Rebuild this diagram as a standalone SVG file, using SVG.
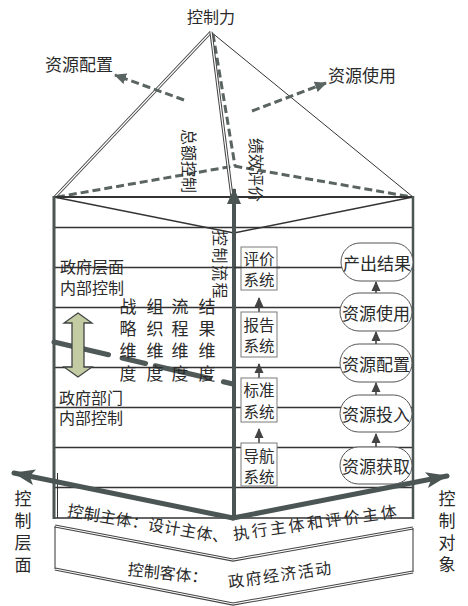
<svg xmlns="http://www.w3.org/2000/svg" width="468" height="606" viewBox="0 0 468 606">
<defs>
<style>
text{font-family:"Noto Sans CJK SC","Liberation Serif",serif;fill:#2a2a2a;}
.t17{font-size:17px;}
.t16{font-size:16px;}
.t15{font-size:15.5px;}
.c{text-anchor:middle;dominant-baseline:central;}
.ln{stroke:#333;stroke-width:1.5;fill:none;}
.thin{stroke:#333;stroke-width:1;fill:none;}
.dbl{stroke:#444;stroke-width:3.2;fill:none;}
.dblw{stroke:#fff;stroke-width:1.2;fill:none;}
.dash{stroke:#5a6462;stroke-width:3;fill:none;stroke-dasharray:8 4;}
.wall{stroke:#4b5553;stroke-width:3;fill:none;}
.big{stroke:#4b5553;stroke-width:5;fill:none;stroke-linecap:round;}
.box{fill:#fff;stroke:#7a7a7a;stroke-width:1;}
.oval{fill:#fff;stroke:#555;stroke-width:1;}
.sm{stroke:#444;stroke-width:1.6;fill:none;}
</style>
<marker id="ahS" markerUnits="userSpaceOnUse" markerWidth="10" markerHeight="10" viewBox="0 0 10 10" refX="9" refY="5" orient="auto"><path d="M0,0.5 L10,5 L0,9.5 Z" fill="#444"/></marker>
<marker id="ahD" markerUnits="userSpaceOnUse" markerWidth="12" markerHeight="12" viewBox="0 0 12 12" refX="11" refY="6" orient="auto"><path d="M0,0.5 L12,6 L0,11.5 Z" fill="#5a6462"/></marker>
<marker id="ahB" markerUnits="userSpaceOnUse" markerWidth="22" markerHeight="16" viewBox="0 0 22 16" refX="21" refY="8" orient="auto"><path d="M0,0 L22,8 L0,16 L5,8 Z" fill="#4b5553"/></marker>
<marker id="ahC" markerUnits="userSpaceOnUse" markerWidth="16" markerHeight="16" viewBox="0 0 16 16" refX="15" refY="8" orient="auto"><path d="M0,1 L16,8 L0,15 Z" fill="#4b5553"/></marker>
</defs>

<!-- pyramid -->
<g id="pyramid">
<line class="dbl" x1="55" y1="197" x2="211" y2="32"/>
<line class="dblw" x1="55" y1="197" x2="211" y2="32"/>
<line class="thin" x1="211" y1="32" x2="413" y2="197"/>
<line class="dash" x1="213" y1="34" x2="235" y2="166"/>
<polyline class="dash" points="57,197 234,166 412,197"/>
<line class="dbl" x1="211" y1="32" x2="232" y2="197"/>
<line class="dblw" x1="211" y1="32" x2="232" y2="197"/>
</g>

<!-- main box frame -->
<g id="frame">
<line x1="54" y1="197" x2="413" y2="197" stroke="#333" stroke-width="2"/>
<polyline class="ln" points="54,197 234,233 413,197"/>
<line class="ln" x1="54" y1="227.5" x2="413" y2="227.5"/>
<line class="ln" x1="54" y1="267.5" x2="413" y2="267.5"/>
<line class="ln" x1="54" y1="307.5" x2="413" y2="307.5"/>
<line class="ln" x1="54" y1="367.5" x2="413" y2="367.5"/>
<line class="ln" x1="54" y1="407.5" x2="413" y2="407.5"/>
<line class="ln" x1="54" y1="447.5" x2="413" y2="447.5"/>
<line class="ln" x1="54" y1="487.5" x2="413" y2="487.5"/>
<line class="ln" x1="54" y1="518" x2="413" y2="518"/>
<line class="wall" x1="54" y1="196" x2="54" y2="519"/>
<line x1="413" y1="196" x2="413" y2="519" stroke="#4b5553" stroke-width="2.5"/>
<line class="thin" x1="57.5" y1="473" x2="57.5" y2="518"/>
</g>

<!-- bottom chevrons -->
<g id="chevrons">
<polyline class="dbl" points="55,526 233,560 413,528"/>
<polyline class="dblw" points="55,526 233,560 413,528"/>
<polyline class="dbl" points="55,569 233,604 413,572"/>
<polyline class="dblw" points="55,569 233,604 413,572"/>
<line class="thin" x1="55" y1="526" x2="55" y2="569"/>
<line class="thin" x1="413" y1="528" x2="413" y2="572"/>
</g>

<!-- connectors -->
<g id="connectors">
<line class="dash" x1="184" y1="100" x2="115" y2="75" marker-end="url(#ahD)"/>
<line class="dash" x1="252" y1="111" x2="326" y2="83" marker-end="url(#ahD)"/>
<line x1="54" y1="342" x2="233" y2="384" stroke="#4f5957" stroke-width="5" stroke-dasharray="56 14 24 10" stroke-linecap="round"/>
<line class="sm" x1="259" y1="312" x2="259" y2="298" marker-end="url(#ahS)"/>
<line class="sm" x1="259" y1="378" x2="259" y2="364" marker-end="url(#ahS)"/>
<line class="sm" x1="259" y1="443" x2="259" y2="429" marker-end="url(#ahS)"/>
<line class="sm" x1="376" y1="293" x2="376" y2="282" marker-end="url(#ahS)"/>
<line class="sm" x1="376" y1="344" x2="376" y2="332" marker-end="url(#ahS)"/>
<line class="sm" x1="376" y1="395" x2="376" y2="383" marker-end="url(#ahS)"/>
<line class="sm" x1="376" y1="447" x2="376" y2="434" marker-end="url(#ahS)"/>
<line x1="234" y1="519" x2="234" y2="189" stroke="#4b5553" stroke-width="4" marker-end="url(#ahC)"/>
<line class="big" x1="233" y1="518" x2="14" y2="473" marker-end="url(#ahB)"/>
<line class="big" x1="233" y1="518" x2="447" y2="476" marker-end="url(#ahB)"/>
</g>

<!-- texts in pyramid -->
<g id="label-top">
<text class="t16 c" x="211" y="16">控制力</text>
<text class="t17 c" x="79" y="63">资源配置</text>
<text class="t17 c" x="362" y="74">资源使用</text>
<text class="t16" dominant-baseline="central" transform="translate(190,129) rotate(90)">总额控制</text>
<text class="t16" dominant-baseline="central" transform="translate(257,138) rotate(90)">绩效评价</text>
<text class="t16" dominant-baseline="central" letter-spacing="1.5" transform="translate(221,230) rotate(90)">控制流程</text>
</g>

<g id="label-left">
<text class="t16 c" x="92" y="266">政府层面</text>
<text class="t16 c" x="92" y="287">内部控制</text>
<text class="t16 c" x="91" y="397">政府部门</text>
<text class="t16 c" x="91" y="417">内部控制</text>
</g>

<g id="dimensions">
<text class="t17 c" x="128 155 180 207" y="305">战组流结</text>
<text class="t17 c" x="128 155 180 207" y="327">略织程果</text>
<text class="t17 c" x="128 155 180 207" y="349">维维维维</text>
<text class="t17 c" x="128 155 180 207" y="372">度度度度</text>
</g>

<g id="level-arrow">
<polygon points="78,313 92,323 84,323 84,367 92,367 78,377 64,367 72,367 72,323 64,323" fill="#c3cba3" stroke="#3f4644" stroke-width="1.3"/>
</g>

<!-- system boxes -->
<g id="node-eval">
<rect class="box" x="241" y="247" width="36" height="43"/>
<line class="ln" x1="234" y1="267.5" x2="280" y2="267.5"/>
<text class="t15 c" x="259" y="257.5">评价</text>
<text class="t15 c" x="259" y="278.5">系统</text>
</g>
<g id="node-report">
<rect class="box" x="241" y="312" width="36" height="45"/>
<text class="t15 c" x="259" y="323.5">报告</text>
<text class="t15 c" x="259" y="345">系统</text>
</g>
<g id="node-standard">
<rect class="box" x="241" y="378" width="36" height="44"/>
<text class="t15 c" x="259" y="389">标准</text>
<text class="t15 c" x="259" y="410.5">系统</text>
</g>
<g id="node-nav">
<rect class="box" x="241" y="443" width="36" height="43"/>
<text class="t15 c" x="259" y="454.5">导航</text>
<text class="t15 c" x="259" y="475.5">系统</text>
</g>

<!-- resource ovals -->
<g id="node-output">
<rect class="oval" x="341" y="243" width="72" height="38" rx="19"/>
<text class="t17 c" x="377" y="262">产出结果</text>
</g>
<g id="node-use">
<rect class="oval" x="340" y="293" width="72" height="38" rx="19"/>
<text class="t17 c" x="376" y="312">资源使用</text>
</g>
<g id="node-alloc">
<rect class="oval" x="340" y="344" width="72" height="38" rx="19"/>
<text class="t17 c" x="376" y="363">资源配置</text>
</g>
<g id="node-input">
<rect class="oval" x="340" y="395" width="72" height="37" rx="18.5"/>
<text class="t17 c" x="376" y="413">资源投入</text>
</g>
<g id="node-acquire">
<rect class="oval" x="340" y="447" width="72" height="37" rx="18.5"/>
<text class="t17 c" x="376" y="465">资源获取</text>
</g>

<!-- side labels -->
<g id="label-sides">
<text class="t17 c" x="23" y="497">控</text>
<text class="t17 c" x="23" y="519">制</text>
<text class="t17 c" x="23" y="541">层</text>
<text class="t17 c" x="23" y="563">面</text>
<text class="t17 c" x="447" y="497">控</text>
<text class="t17 c" x="447" y="519">制</text>
<text class="t17 c" x="447" y="541">对</text>
<text class="t17 c" x="447" y="563">象</text>
</g>

<!-- bottom texts -->
<g id="label-bottom">
<text class="t16" dominant-baseline="central" textLength="163" lengthAdjust="spacing" transform="translate(68,509) rotate(9.7)">控制主体：设计主体、</text>
<text class="t16" dominant-baseline="central" textLength="165" lengthAdjust="spacing" transform="translate(233,533) rotate(-8)">执行主体和评价主体</text>
<text class="t16" dominant-baseline="central" transform="translate(128,568) rotate(6)">控制客体：</text>
<text class="t16" dominant-baseline="central" textLength="104" lengthAdjust="spacing" transform="translate(228,581) rotate(-8)">政府经济活动</text>
</g>
</svg>
